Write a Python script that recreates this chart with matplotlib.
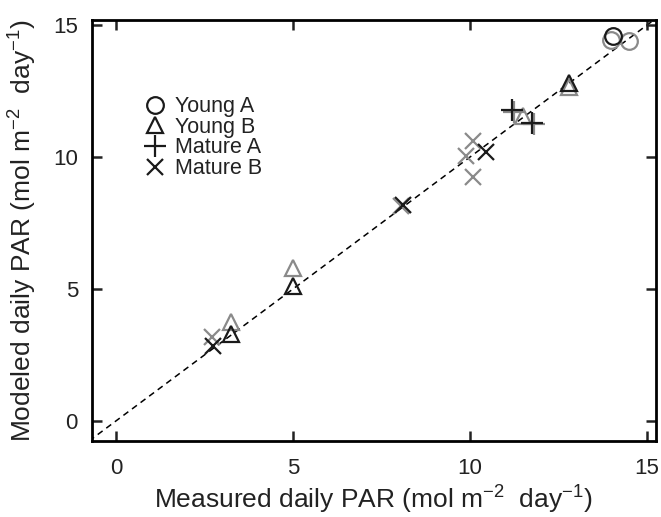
import numpy as np
import matplotlib.pyplot as plt

plt.switch_backend('agg')
plt.rcParams['font.family'] = ['Liberation Sans', 'DejaVu Sans']
plt.rcParams['mathtext.fontset'] = 'custom'
plt.rcParams['mathtext.rm'] = 'Liberation Sans'
plt.rcParams['mathtext.it'] = 'Liberation Sans'
plt.rcParams['xtick.direction'] = 'in'
plt.rcParams['ytick.direction'] = 'in'

# Young A
ya_black_x = [14.05]
ya_black_y = [14.6]
ya_gray_x = [14.0, 14.5]
ya_gray_y = [14.45, 14.4]

# Young B
yb_black_x = [3.25, 5.0, 12.8]
yb_black_y = [3.3, 5.1, 12.8]
yb_gray_x = [3.25, 5.0, 11.5, 12.8]
yb_gray_y = [3.75, 5.8, 11.55, 12.65]

# Mature A
ma_black_x = [11.2, 11.75]
ma_black_y = [11.8, 11.3]
ma_gray_x = [11.25, 11.8]
ma_gray_y = [11.7, 11.25]

# Mature B
mb_black_x = [2.75, 8.1, 10.45]
mb_black_y = [2.85, 8.2, 10.2]
mb_gray_x = [2.7, 8.05, 9.9, 10.1, 10.1]
mb_gray_y = [3.2, 8.15, 10.05, 10.6, 9.25]

gray = '#8a8a8a'
black = '#1a1a1a'

fig = plt.figure(figsize=(6.61, 5.17), dpi=100)
ax = fig.add_axes([0.139, 0.147, 0.853, 0.814])

lim = (-0.68, 15.25)
ylim = (-0.76, 15.19)
ax.plot([-1, 16], [-1, 16], color='k', linestyle=(0, (4, 3)), linewidth=1.1, zorder=1)

ms = 12
mew = 1.6
ax.plot(ya_gray_x, ya_gray_y, linestyle='none', marker='o', mfc='none', mec=gray, ms=ms, mew=mew)
ax.plot(yb_gray_x, yb_gray_y, linestyle='none', marker='^', mfc='none', mec=gray, ms=ms, mew=mew)
ax.plot(ma_gray_x, ma_gray_y, linestyle='none', marker='+', mec=gray, ms=ms + 4, mew=mew)
ax.plot(mb_gray_x, mb_gray_y, linestyle='none', marker='x', mec=gray, ms=ms, mew=mew)

h1, = ax.plot(ya_black_x, ya_black_y, linestyle='none', marker='o', mfc='none', mec=black, ms=ms, mew=mew)
h2, = ax.plot(yb_black_x, yb_black_y, linestyle='none', marker='^', mfc='none', mec=black, ms=ms, mew=mew)
h3, = ax.plot(ma_black_x, ma_black_y, linestyle='none', marker='+', mec=black, ms=ms + 4, mew=mew)
h4, = ax.plot(mb_black_x, mb_black_y, linestyle='none', marker='x', mec=black, ms=ms, mew=mew)

ax.set_xlim(*lim)
ax.set_ylim(*ylim)
ax.set_xticks([0, 5, 10, 15])
ax.set_yticks([0, 5, 10, 15])
ax.tick_params(top=True, right=True, length=7, width=1.8, labelsize=16, colors='#222222')
ax.tick_params(axis='x', pad=12)
ax.tick_params(axis='y', pad=10)
for s in ax.spines.values():
    s.set_linewidth(2.0)

ax.set_xlabel(r'Measured daily PAR (mol m$^{-2}$  day$^{-1}$)', fontsize=19, labelpad=4, color='#222222')
ax.set_ylabel(r'Modeled daily PAR (mol m$^{-2}$  day$^{-1}$)', fontsize=19, labelpad=10, color='#222222')

leg = ax.legend([h1, h2, h3, h4], ['Young A', 'Young B', 'Mature A', 'Mature B'],
                loc='upper left', bbox_to_anchor=(0.06, 0.865), frameon=False,
                fontsize=15.5, handlelength=0.9, handletextpad=0.5, labelspacing=-0.02,
                markerscale=1.0)
for t in leg.get_texts():
    t.set_color('#222222')

plt.savefig('out.png')
